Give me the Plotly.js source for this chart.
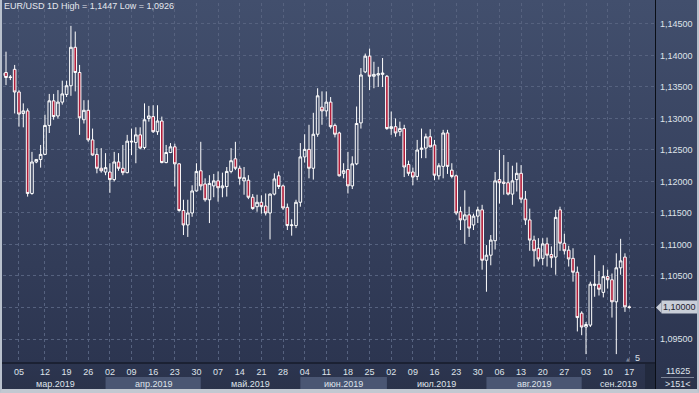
<!DOCTYPE html>
<html><head><meta charset="utf-8">
<script src="https://cdn.plot.ly/plotly-3.0.1.min.js"></script>
<style>
html,body{margin:0;padding:0;background:#2a3249;}
#wrap{position:relative;width:699px;height:393px;overflow:hidden;
 background:linear-gradient(to bottom,#424f6d 0px,#37425f 180px,#2c3550 363px,#2a3249 393px);}
#chart{position:absolute;left:0;top:0;width:699px;height:393px;}
#frame{position:absolute;left:0;top:0;width:699px;height:393px;box-sizing:border-box;
 border-left:2px solid #b9c1cd;border-right:2px solid #b9c1cd;border-bottom:4px solid #c2c8d1;pointer-events:none;}
</style></head>
<body><div id="wrap"><div id="chart"></div><div id="frame"></div></div>
<script>
const dates = [
'2019-02-28','2019-03-01','2019-03-03','2019-03-04','2019-03-05','2019-03-06','2019-03-07','2019-03-08','2019-03-10','2019-03-11',
'2019-03-12','2019-03-13','2019-03-14','2019-03-15','2019-03-18','2019-03-19','2019-03-20','2019-03-21','2019-03-22','2019-03-25',
'2019-03-26','2019-03-27','2019-03-28','2019-03-29','2019-04-01','2019-04-02','2019-04-03','2019-04-04','2019-04-05','2019-04-08',
'2019-04-09','2019-04-10','2019-04-11','2019-04-12','2019-04-15','2019-04-16','2019-04-17','2019-04-18','2019-04-19','2019-04-22',
'2019-04-23','2019-04-24','2019-04-25','2019-04-26','2019-04-29','2019-04-30','2019-05-01','2019-05-02','2019-05-03','2019-05-06',
'2019-05-07','2019-05-08','2019-05-09','2019-05-10','2019-05-13','2019-05-14','2019-05-15','2019-05-16','2019-05-17','2019-05-20',
'2019-05-21','2019-05-22','2019-05-23','2019-05-24','2019-05-27','2019-05-28','2019-05-29','2019-05-30','2019-05-31','2019-06-03',
'2019-06-04','2019-06-05','2019-06-06','2019-06-07','2019-06-10','2019-06-11','2019-06-12','2019-06-13','2019-06-14','2019-06-17',
'2019-06-18','2019-06-19','2019-06-20','2019-06-21','2019-06-24','2019-06-25','2019-06-26','2019-06-27','2019-06-28','2019-07-01',
'2019-07-02','2019-07-03','2019-07-04','2019-07-05','2019-07-08','2019-07-09','2019-07-10','2019-07-11','2019-07-12','2019-07-15',
'2019-07-16','2019-07-17','2019-07-18','2019-07-19','2019-07-22','2019-07-23','2019-07-24','2019-07-25','2019-07-26','2019-07-29',
'2019-07-30','2019-07-31','2019-08-01','2019-08-02','2019-08-05','2019-08-06','2019-08-07','2019-08-08','2019-08-09','2019-08-12',
'2019-08-13','2019-08-14','2019-08-15','2019-08-16','2019-08-19','2019-08-20','2019-08-21','2019-08-22','2019-08-23','2019-08-26',
'2019-08-27','2019-08-28','2019-08-29','2019-08-30','2019-09-02','2019-09-03','2019-09-04','2019-09-05','2019-09-06','2019-09-09',
'2019-09-10','2019-09-11','2019-09-12','2019-09-13','2019-09-16','2019-09-17'];

const openP = [
1.1368,1.1373,1.1366,1.1378,1.1342,1.1308,1.1312,1.1181,1.1231,1.1235,
1.1243,1.1289,1.1328,1.1304,1.1326,1.1338,1.1352,1.1413,1.1373,1.1298,
1.1313,1.1266,1.1243,1.1221,1.1215,1.1215,1.1203,1.1231,1.1221,1.1214,
1.1264,1.1262,1.1274,1.1254,1.1300,1.1303,1.1279,1.1296,1.1230,1.1246,
1.1255,1.1228,1.1154,1.1131,1.1150,1.1185,1.1217,1.1196,1.1171,1.1193,
1.1201,1.1190,1.1192,1.1216,1.1236,1.1221,1.1201,1.1202,1.1175,1.1160,
1.1167,1.1161,1.1150,1.1180,1.1209,1.1193,1.1159,1.1130,1.1130,1.1167,
1.1239,1.1251,1.1221,1.1275,1.1318,1.1312,1.1326,1.1289,1.1277,1.1213,
1.1219,1.1193,1.1228,1.1293,1.1374,1.1399,1.1367,1.1369,1.1370,1.1367,
1.1284,1.1287,1.1279,1.1284,1.1227,1.1215,1.1208,1.1251,1.1253,1.1271,
1.1258,1.1209,1.1224,1.1277,1.1218,1.1209,1.1152,1.1139,1.1147,1.1131,
1.1145,1.1155,1.1075,1.1083,1.1106,1.1203,1.1199,1.1198,1.1180,1.1203,
1.1213,1.1172,1.1139,1.1107,1.1094,1.1078,1.1101,1.1084,1.1080,1.1155,
1.1102,1.1091,1.1078,1.1056,1.0991,1.0969,1.0972,1.1035,1.1037,1.1024,
1.1049,1.1044,1.1009,1.1063,1.1080,1.1001];

const highP = [
1.1419,1.1406,1.1369,1.1385,1.1345,1.1324,1.1316,1.1247,1.1235,1.1258,
1.1306,1.1339,1.1339,1.1345,1.1360,1.1360,1.1447,1.1438,1.1385,1.1329,
1.1329,1.1284,1.1253,1.1253,1.1245,1.1229,1.1247,1.1245,1.1258,1.1274,
1.1284,1.1286,1.1286,1.1324,1.1320,1.1321,1.1321,1.1303,1.1258,1.1261,
1.1260,1.1229,1.1171,1.1171,1.1194,1.1229,1.1263,1.1205,1.1210,1.1212,
1.1216,1.1214,1.1223,1.1253,1.1263,1.1225,1.1223,1.1210,1.1180,1.1179,
1.1178,1.1181,1.1181,1.1213,1.1216,1.1195,1.1165,1.1140,1.1171,1.1261,
1.1275,1.1290,1.1309,1.1348,1.1343,1.1343,1.1334,1.1292,1.1279,1.1229,
1.1247,1.1240,1.1319,1.1380,1.1403,1.1411,1.1390,1.1382,1.1396,1.1369,
1.1311,1.1300,1.1295,1.1290,1.1233,1.1222,1.1266,1.1284,1.1276,1.1283,
1.1266,1.1229,1.1282,1.1282,1.1229,1.1211,1.1160,1.1186,1.1160,1.1149,
1.1160,1.1163,1.1099,1.1115,1.1215,1.1250,1.1242,1.1231,1.1225,1.1230,
1.1226,1.1185,1.1157,1.1114,1.1110,1.1110,1.1111,1.1097,1.1155,1.1160,
1.1117,1.1098,1.1094,1.1065,1.0994,1.0977,1.1041,1.1083,1.1058,1.1067,
1.1060,1.1054,1.1086,1.1109,1.1086,1.1003];

const lowP = [
1.1357,1.1353,1.1361,1.1308,1.1287,1.1286,1.1176,1.1179,1.1229,1.1222,
1.1242,1.1277,1.1298,1.1300,1.1322,1.1334,1.1336,1.1343,1.1274,1.1292,
1.1263,1.1241,1.1213,1.1214,1.1210,1.1182,1.1200,1.1217,1.1210,1.1213,
1.1242,1.1229,1.1251,1.1251,1.1295,1.1277,1.1274,1.1229,1.1229,1.1245,
1.1192,1.1152,1.1115,1.1112,1.1144,1.1184,1.1186,1.1168,1.1134,1.1175,
1.1168,1.1175,1.1176,1.1213,1.1218,1.1195,1.1179,1.1172,1.1155,1.1152,
1.1149,1.1146,1.1108,1.1178,1.1188,1.1155,1.1123,1.1114,1.1126,1.1160,
1.1230,1.1205,1.1203,1.1271,1.1290,1.1303,1.1284,1.1270,1.1208,1.1205,
1.1181,1.1188,1.1226,1.1284,1.1372,1.1345,1.1348,1.1350,1.1350,1.1282,
1.1274,1.1271,1.1272,1.1207,1.1209,1.1194,1.1202,1.1237,1.1237,1.1254,
1.1202,1.1203,1.1205,1.1212,1.1205,1.1147,1.1123,1.1101,1.1112,1.1123,
1.1134,1.1060,1.1025,1.1067,1.1092,1.1165,1.1179,1.1178,1.1163,1.1184,
1.1166,1.1131,1.1090,1.1065,1.1073,1.1067,1.1065,1.1063,1.1052,1.1090,
1.1084,1.1065,1.1041,1.0962,1.0956,1.0926,1.0969,1.1017,1.1019,1.1016,
1.1030,1.0984,1.0926,1.1052,1.0993,1.0998];

const closeP = [
1.1372,1.1365,1.1365,1.1342,1.1307,1.1312,1.1181,1.1231,1.1235,1.1243,
1.1289,1.1328,1.1303,1.1326,1.1339,1.1352,1.1413,1.1373,1.1301,1.1313,
1.1266,1.1242,1.1221,1.1217,1.1222,1.1203,1.1231,1.1221,1.1214,1.1264,
1.1263,1.1274,1.1253,1.1298,1.1304,1.1279,1.1296,1.1230,1.1246,1.1255,
1.1228,1.1154,1.1131,1.1150,1.1185,1.1216,1.1193,1.1171,1.1197,1.1201,
1.1190,1.1193,1.1216,1.1233,1.1221,1.1205,1.1206,1.1175,1.1157,1.1167,
1.1160,1.1150,1.1180,1.1204,1.1192,1.1158,1.1130,1.1131,1.1167,1.1239,
1.1251,1.1221,1.1275,1.1336,1.1312,1.1326,1.1287,1.1275,1.1209,1.1217,
1.1193,1.1228,1.1292,1.1369,1.1399,1.1367,1.1370,1.1371,1.1372,1.1284,
1.1287,1.1277,1.1284,1.1223,1.1213,1.1207,1.1250,1.1253,1.1271,1.1255,
1.1210,1.1225,1.1277,1.1224,1.1208,1.1150,1.1139,1.1147,1.1126,1.1145,
1.1155,1.1075,1.1083,1.1107,1.1201,1.1198,1.1197,1.1180,1.1201,1.1213,
1.1172,1.1139,1.1107,1.1090,1.1077,1.1101,1.1083,1.1079,1.1143,1.1102,
1.1090,1.1077,1.1056,1.0984,1.0969,1.0973,1.1037,1.1037,1.1029,1.1049,
1.1044,1.1009,1.1063,1.1074,1.1001,1.1000];

const tickDates = ['2019-03-05','2019-03-12','2019-03-19','2019-03-26','2019-04-02','2019-04-09','2019-04-16','2019-04-23','2019-04-30',
'2019-05-07','2019-05-14','2019-05-21','2019-05-28','2019-06-04','2019-06-11','2019-06-18','2019-06-25','2019-07-02','2019-07-09',
'2019-07-16','2019-07-23','2019-07-30','2019-08-06','2019-08-13','2019-08-20','2019-08-27','2019-09-03','2019-09-10','2019-09-17'];
const tickLabels = ['05','12','19','26','02','09','16','23','30','07','14','21','28','04','11','18','25','02','09','16','23','30',
'06','13','20','27','03','10','17'];
const priceTicks = [1.095,1.100,1.105,1.110,1.115,1.120,1.125,1.130,1.135,1.140,1.145];
const monthStarts = ['2019-03-01','2019-04-01','2019-05-01','2019-06-03','2019-07-01','2019-08-01','2019-09-02'];
const monthNames = ['мар.2019','апр.2019','май.2019','июн.2019','июл.2019','авг.2019','сен.2019'];
const monthShaded = [false,true,false,true,false,true,false];
const titleText = 'EUR/USD 1D High = 1,1447 Low = 1,0926';
const barCountText = '11625';
const visibleText = '>151<';

const FONT = 'Liberation Sans, Arial, sans-serif';
const TXT = '#dfe3ea';
const W = 699, H = 393;
const M = {l:3, r:44, t:3, b:30};
const pw = W - M.l - M.r, ph = H - M.t - M.b;
const px2paperX = p => (p - M.l) / pw;
const px2paperY = p => (H - M.b - p) / ph;
const xRange = [0.307, 150.94];
const yRange = [1.09119, 1.14833];
const fmtPrice = v => v.toFixed(5).replace('.', ',');

const last = closeP[closeP.length-1];
// the current-price tag covers the regular label at that level
const priceTickText = priceTicks.map(v => Math.abs(v - last) < 0.0006 ? '' : fmtPrice(v));

const trace = {
  type:'candlestick', x:dates, open:openP, high:highP, low:lowP, close:closeP,
  increasing:{line:{color:'#ffffff', width:1}, fillcolor:'rgba(0,0,0,0)'},
  decreasing:{line:{color:'#ffffff', width:1}, fillcolor:'#b01d3a'},
  whiskerwidth:0, hoverinfo:'skip', showlegend:false
};

const shapes = [];
const annotations = [];
const idx = d => dates.indexOf(d);
for (let i = 0; i < monthStarts.length; i++) {
  const a = Math.max(idx(monthStarts[i]), xRange[0]);
  const b = i + 1 < monthStarts.length ? idx(monthStarts[i+1]) : xRange[1];
  if (monthShaded[i]) {
    shapes.push({type:'rect', xref:'x', yref:'paper', x0:a, x1:b, y0:px2paperY(389), y1:px2paperY(377),
      fillcolor:'#4a5673', line:{width:0}, layer:'below'});
  }
  annotations.push({xref:'x', yref:'paper', x:(a+b)/2, y:px2paperY(383.5), text:monthNames[i], showarrow:false,
    font:{family:FONT, size:9, color:TXT}, xanchor:'center', yanchor:'middle'});
}
// separators
shapes.push({type:'line', xref:'paper', yref:'paper', x0:px2paperX(0), x1:px2paperX(655.5), y0:0, y1:0, line:{color:'#0a0e16', width:1}});
shapes.push({type:'line', xref:'paper', yref:'paper', x0:px2paperX(655.5), x1:px2paperX(655.5), y0:px2paperY(389), y1:px2paperY(0), line:{color:'#0a0e16', width:1}});
shapes.push({type:'rect', xref:'paper', yref:'paper', x0:px2paperX(645), x1:px2paperX(655), y0:px2paperY(389), y1:px2paperY(364), fillcolor:'#222a3e', line:{width:0}});
shapes.push({type:'line', xref:'paper', yref:'paper', x0:px2paperX(661), x1:px2paperX(694), y0:px2paperY(377.5), y1:px2paperY(377.5), line:{color:'#7d8699', width:1}});

// current price tag
const halfH = 5.5 * (yRange[1]-yRange[0]) / ph;
shapes.push({type:'path', xref:'paper', yref:'y',
  path:'M '+px2paperX(656)+','+last+' L '+px2paperX(661.5)+','+(last+halfH)+' L '+px2paperX(661.5)+','+(last-halfH)+' Z',
  fillcolor:'#c9ced8', line:{width:0}});
annotations.push({xref:'paper', yref:'y', x:px2paperX(661), y:last, text:fmtPrice(last), showarrow:false, xanchor:'left', yanchor:'middle',
  bgcolor:'#c9ced8', borderpad:1, font:{family:FONT, size:9, color:'#1b2130'}});

annotations.push({xref:'paper', yref:'paper', x:px2paperX(677.5), y:px2paperY(371), text:barCountText, showarrow:false,
  xanchor:'center', yanchor:'middle', font:{family:FONT, size:9, color:TXT}});
annotations.push({xref:'paper', yref:'paper', x:px2paperX(677.5), y:px2paperY(384), text:visibleText, showarrow:false,
  xanchor:'center', yanchor:'middle', font:{family:FONT, size:9, color:TXT}});
annotations.push({xref:'paper', yref:'paper', x:px2paperX(637), y:px2paperY(357.5), text:'5', showarrow:false,
  xanchor:'center', yanchor:'middle', font:{family:FONT, size:9, color:TXT}});
annotations.push({xref:'paper', yref:'paper', x:px2paperX(628), y:px2paperY(358.5), text:'▲', showarrow:false,
  xanchor:'center', yanchor:'middle', font:{family:'DejaVu Sans', size:5, color:'#7c8496'}});

const layout = {
  width:W, height:H, margin:M,
  paper_bgcolor:'rgba(0,0,0,0)', plot_bgcolor:'rgba(0,0,0,0)',
  separators:', ',
  showlegend:false,
  boxgap:0.22, boxgroupgap:0.22,
  title:{text:titleText, xref:'container', yref:'container', x:4/W, xanchor:'left', y:1, yanchor:'top',
    pad:{t:3, l:0}, font:{family:FONT, size:9, color:'#e4e7ed'}},
  xaxis:{type:'category', range:xRange, tickvals:tickDates, ticktext:tickLabels, showgrid:true,
    gridcolor:'#56627f', griddash:'3px,3px', gridwidth:1, ticks:'', showline:false, zeroline:false,
    tickfont:{family:FONT, size:9, color:TXT}, rangeslider:{visible:false}, fixedrange:true, ticklabelstandoff:2},
  yaxis:{side:'right', range:yRange, tickvals:priceTicks, ticktext:priceTickText, showgrid:true,
    gridcolor:'#56627f', griddash:'3px,3px', gridwidth:1, ticks:'', showline:false, zeroline:false,
    tickfont:{family:FONT, size:9, color:TXT}, fixedrange:true, ticklabelstandoff:4},
  shapes:shapes, annotations:annotations
};
Plotly.newPlot('chart', [trace], layout, {staticPlot:true, displayModeBar:false});
</script></body></html>
